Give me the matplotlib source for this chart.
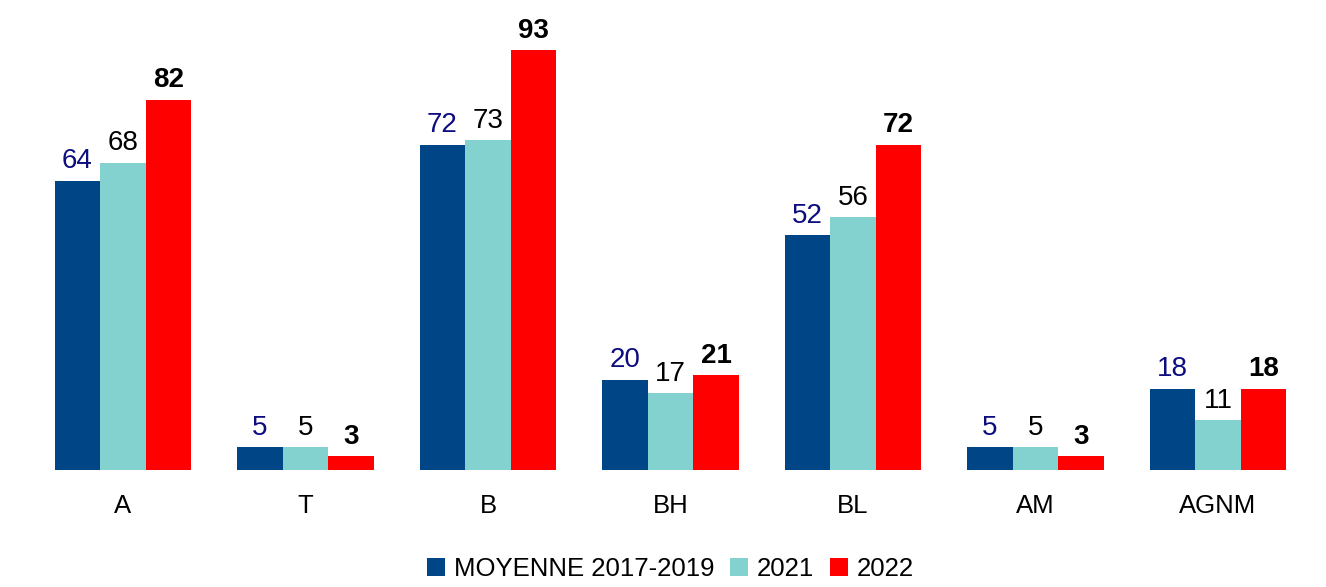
import matplotlib
matplotlib.use("Agg")
import matplotlib.pyplot as plt
import numpy as np

plt.rcParams["font.family"] = ["Liberation Sans", "DejaVu Sans"]

categories = ["A", "T", "B", "BH", "BL", "AM", "AGNM"]
moyenne = [64, 5, 72, 20, 52, 5, 18]
y2021 = [68, 5, 73, 17, 56, 5, 11]
y2022 = [82, 3, 93, 21, 72, 3, 18]

series = [
    ("MOYENNE 2017-2019", moyenne, "#004586", "#0d0d80", "normal"),
    ("2021", y2021, "#83d2d0", "#000000", "normal"),
    ("2022", y2022, "#ff0000", "#000000", "bold"),
]

fig = plt.figure(figsize=(13.26, 5.87), dpi=100)
ax = fig.add_axes([31.75 / 1326, 117 / 587, 1277.5 / 1326, 451.6 / 587])

x = np.arange(len(categories))
width = 0.25
for i, (name, vals, color, lcolor, weight) in enumerate(series):
    pos = x + (i - 1) * width
    ax.bar(pos, vals, width, color=color, label=name)
    for px, v in zip(pos, vals):
        ax.annotate(str(v), xy=(px, v), xytext=(0, 9), textcoords="offset points",
                    ha="center", va="baseline", fontsize=20,
                    color=lcolor, fontweight=weight)

ax.set_xlim(-0.5, len(categories) - 0.5)
ax.set_ylim(0, 100)
ax.set_xticks(x)
ax.set_xticklabels(categories, fontsize=18.5)
ax.tick_params(axis="x", length=0, pad=17)
ax.set_yticks([])
for s in ax.spines.values():
    s.set_visible(False)

ax.legend(loc="center", bbox_to_anchor=(0.5, (18 - 117) / 451.6),
          bbox_transform=ax.transAxes, ncol=3, frameon=False, fontsize=18.5,
          handlelength=0.7, handleheight=0.7, handletextpad=0.35,
          columnspacing=0.6, borderaxespad=0)

fig.savefig("out.png", dpi=100)
